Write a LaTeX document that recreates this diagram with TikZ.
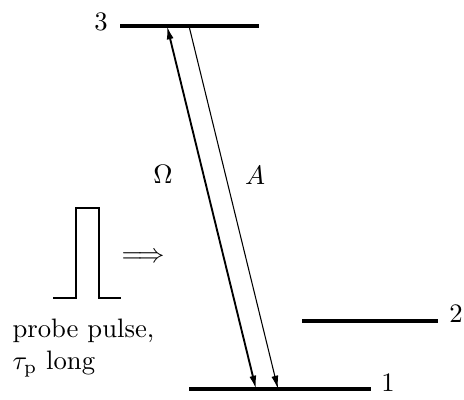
\documentclass[tikz,border=0pt]{standalone}
\usetikzlibrary{arrows.meta}
\begin{document}
\begin{tikzpicture}[x=0.375pt,y=-0.375pt,
  level/.style={line width=1.2pt},
  lbl/.style={inner sep=0pt},
  rabi/.style={line width=0.7pt,{Latex[length=5pt,width=2.6pt]}-{Latex[length=5pt,width=2.6pt]}},
  decay/.style={line width=0.4pt,-{Latex[length=5pt,width=2.6pt]}},
  pulse/.style={line width=0.9pt}]
\useasboundingbox (0,0) rectangle (464,399);
% levels
\coordinate (l3a) at (120,26); \coordinate (l3b) at (259,26);
\coordinate (l2a) at (302,321); \coordinate (l2b) at (438,321);
\coordinate (l1a) at (189,389); \coordinate (l1b) at (371,389);
\draw[level] (l3a) -- (l3b);
\draw[level] (l2a) -- (l2b);
\draw[level] (l1a) -- (l1b);
\node[lbl] (n3) at (101,22) {3};
\node[lbl] (n2) at (456,314) {2};
\node[lbl] (n1) at (388,383) {1};
% transitions
\coordinate (o3) at (167,26); \coordinate (o1) at (256,389);
\coordinate (a3) at (189,26); \coordinate (a1) at (278,389);
\draw[rabi] (o1) -- (o3);
\draw[decay] (a3) -- (a1);
\node[lbl] (om) at (163,174) {$\Omega$};
\node[lbl] (aa) at (255,175) {$A$};
% pulse
\coordinate (p0) at (53,298); \coordinate (p1) at (76,298);
\coordinate (p2) at (76,208); \coordinate (p3) at (99,208);
\coordinate (p4) at (99,298); \coordinate (p5) at (121,298);
\draw[pulse] (p0) -- (p1) -- (p2) -- (p3) -- (p4) -- (p5);
\node[lbl] (imp) at (143,258) {$\Longrightarrow$};
\node[lbl,align=left,anchor=north west] (txt) at (12,318) {probe pulse,\\$\tau_\mathrm{p}$ long};
\end{tikzpicture}
\end{document}
